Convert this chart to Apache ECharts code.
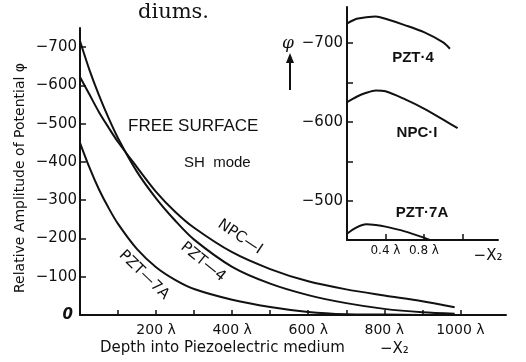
<!DOCTYPE html>
<html>
<head>
<meta charset="utf-8">
<script src="https://cdn.jsdelivr.net/npm/echarts@6/dist/echarts.min.js"></script>
<style>
  html, body { margin: 0; padding: 0; background: #fff; }
  #chart { width: 526px; height: 362px; }
</style>
</head>
<body>
<div id="chart"></div>
<script>
// main chart: depth (in wavelengths) vs amplitude
var depth = [0, 25, 50, 75, 100, 150, 200, 250, 300, 400, 500, 600, 700, 800, 900, 985]
var pzt4 = [716, 640, 574, 515, 462, 374, 305, 247, 197, 126, 82, 52, 31, 16, 7, 3]
var npc1 = [622, 576, 530, 490, 452, 386, 322, 270, 228, 164, 120, 88, 67, 51, 36, 20]
var pzt7a = [450, 385, 328, 280, 238, 172, 125, 92, 68, 40, 21, 8, 2, 1, 0, 0]

// inset: first wavelength or so
var insetDepth4 = [0, 0.1, 0.2, 0.3, 0.4, 0.6, 0.8, 1.0, 1.07]
var insetPzt4 = [725, 731, 733, 734, 731, 723, 714, 701, 693]
var insetDepthN = [0, 0.1, 0.2, 0.3, 0.4, 0.6, 0.8, 1.0, 1.15]
var insetNpc1 = [625, 632, 637, 640, 639, 629, 617, 603, 592]
var insetDepth7 = [0, 0.1, 0.2, 0.3, 0.4, 0.6, 0.8, 0.86]
var insetPzt7a = [458, 466, 470, 469, 467, 461, 453, 450]

var xTicks = [100, 200, 300, 400, 500, 600, 700, 800, 900, 1000]
var xLabels = [200, 400, 600, 800, 1000]
var yTicks = [100, 200, 300, 400, 500, 600, 700]
var yLabels = [0, 100, 200, 300, 400, 500, 600, 700]
var insetXTicks = [0.4, 0.8, 1.2]
var insetXLabels = [0.4, 0.8]
var insetYTicks = [500, 550, 600, 650, 700]
var insetYLabels = [500, 600, 700]

function pairs(xs, ys) {
  return xs.map(function (x, i) { return [x, ys[i]] })
}

var black = '#111'
var lineStyle = { color: black, width: 2 }

function curve(name, xi, data) {
  return {
    name: name,
    type: 'line',
    xAxisIndex: xi,
    yAxisIndex: xi,
    data: data,
    smooth: 0.3,
    symbol: 'none',
    lineStyle: lineStyle,
    silent: true
  }
}

var chart = echarts.init(document.getElementById('chart'))
chart.setOption({
  backgroundColor: '#fff',
  animation: false,
  grid: [
    { left: 80, top: 28, width: 426, height: 287 },
    { left: 347, top: 7, width: 151, height: 233 }
  ],
  xAxis: [{
    type: 'value', gridIndex: 0, min: 0, max: 1120,
    axisLine: { lineStyle: { color: black, width: 2 } },
    axisTick: { inside: true, length: 5, customValues: xTicks, lineStyle: { color: black, width: 1.5 } },
    axisLabel: {
      customValues: xLabels, margin: 8, color: black,
      fontFamily: 'DejaVu Sans', fontSize: 14,
      formatter: function (v) { return v + ' λ' }
    },
    splitLine: { show: false }
  }, {
    type: 'value', gridIndex: 1, min: 0, max: 1.57,
    axisLine: { lineStyle: { color: black, width: 2 } },
    axisTick: { inside: true, length: 6, customValues: insetXTicks, lineStyle: { color: black, width: 1.5 } },
    axisLabel: {
      customValues: insetXLabels, margin: 5, color: black,
      fontFamily: 'DejaVu Sans', fontSize: 12,
      formatter: function (v) { return v + ' λ' }
    },
    splitLine: { show: false }
  }],
  yAxis: [{
    type: 'value', gridIndex: 0, min: 0, max: 750,
    axisLine: { show: true, lineStyle: { color: black, width: 2 } },
    axisTick: { show: true, inside: true, length: 6, customValues: yTicks, lineStyle: { color: black, width: 1.5 } },
    axisLabel: {
      customValues: yLabels, margin: 3, color: black,
      fontFamily: 'DejaVu Sans', fontSize: 15,
      formatter: function (v) { return v === 0 ? '{z|0}' : '\u2212' + v },
      rich: { z: { fontFamily: 'DejaVu Sans', fontWeight: 'bold', fontStyle: 'italic', fontSize: 15, padding: [0, 4, 0, 0] } }
    },
    splitLine: { show: false }
  }, {
    type: 'value', gridIndex: 1, min: 450, max: 746,
    axisLine: { show: true, lineStyle: { color: black, width: 2 } },
    axisTick: { show: true, inside: true, length: 6, customValues: insetYTicks, lineStyle: { color: black, width: 1.5 } },
    axisLabel: {
      customValues: insetYLabels, margin: 4, color: black,
      fontFamily: 'DejaVu Sans', fontSize: 15,
      formatter: function (v) { return '\u2212' + v }
    },
    splitLine: { show: false }
  }],
  series: [
    curve('PZT-4', 0, pairs(depth, pzt4)),
    curve('NPC-1', 0, pairs(depth, npc1)),
    curve('PZT-7A', 0, pairs(depth, pzt7a)),
    curve('PZT-4 inset', 1, pairs(insetDepth4, insetPzt4)),
    curve('NPC-1 inset', 1, pairs(insetDepthN, insetNpc1)),
    curve('PZT-7A inset', 1, pairs(insetDepth7, insetPzt7a))
  ],
  graphic: [
    { type: 'text', left: 138, top: 2, style: { text: 'diums.', font: '21px "DejaVu Serif"', fill: black } },
    { type: 'text', x: 128, y: 126, style: { text: 'FREE SURFACE', font: '17px "Liberation Sans"', fill: black, verticalAlign: 'middle' } },
    { type: 'text', x: 184, y: 163, style: { text: 'SH  mode', font: '15px "Liberation Sans"', fill: black, verticalAlign: 'middle' } },
    { type: 'text', x: 240, y: 237, rotation: -0.59, style: { text: 'NPC\u2014I', font: '15px "DejaVu Sans"', fill: black, align: 'center', verticalAlign: 'middle' } },
    { type: 'text', x: 203, y: 262, rotation: -0.68, style: { text: 'PZT\u20144', font: '15px "DejaVu Sans"', fill: black, align: 'center', verticalAlign: 'middle' } },
    { type: 'text', x: 144, y: 275, rotation: -0.77, style: { text: 'PZT\u20147A', font: '15px "DejaVu Sans"', fill: black, align: 'center', verticalAlign: 'middle' } },
    { type: 'text', x: 413, y: 58, style: { text: 'PZT\u00b74', font: 'bold 15px "Liberation Sans"', fill: black, align: 'center', verticalAlign: 'middle' } },
    { type: 'text', x: 417, y: 133, style: { text: 'NPC\u00b7I', font: 'bold 15px "Liberation Sans"', fill: black, align: 'center', verticalAlign: 'middle' } },
    { type: 'text', x: 422, y: 213, style: { text: 'PZT\u00b77A', font: 'bold 15px "Liberation Sans"', fill: black, align: 'center', verticalAlign: 'middle' } },
    { type: 'text', x: 488, y: 256, style: { text: '\u2212X\u2082', font: '15px "DejaVu Sans"', fill: black, align: 'center', verticalAlign: 'middle' } },
    { type: 'text', x: 288, y: 44, style: { text: '\u03c6', font: 'italic 17px "DejaVu Serif"', fill: black, align: 'center', verticalAlign: 'middle' } },
    { type: 'line', shape: { x1: 290, y1: 90, x2: 290, y2: 60 }, style: { stroke: black, lineWidth: 2 } },
    { type: 'polygon', shape: { points: [[286, 63], [290, 53], [294, 63]] }, style: { fill: black } },
    { type: 'text', x: 20, y: 178, rotation: Math.PI / 2, style: { text: 'Relative Amplitude of Potential \u03c6', font: '14px "DejaVu Sans"', fill: black, align: 'center', verticalAlign: 'middle' } },
    { type: 'text', x: 100, y: 348, style: { text: 'Depth into Piezoelectric medium', font: '15px "DejaVu Sans"', fill: black, verticalAlign: 'middle' } },
    { type: 'text', x: 380, y: 349, style: { text: '\u2212X\u2082', font: '15px "DejaVu Sans"', fill: black, verticalAlign: 'middle' } }
  ]
})
</script>
</body>
</html>
